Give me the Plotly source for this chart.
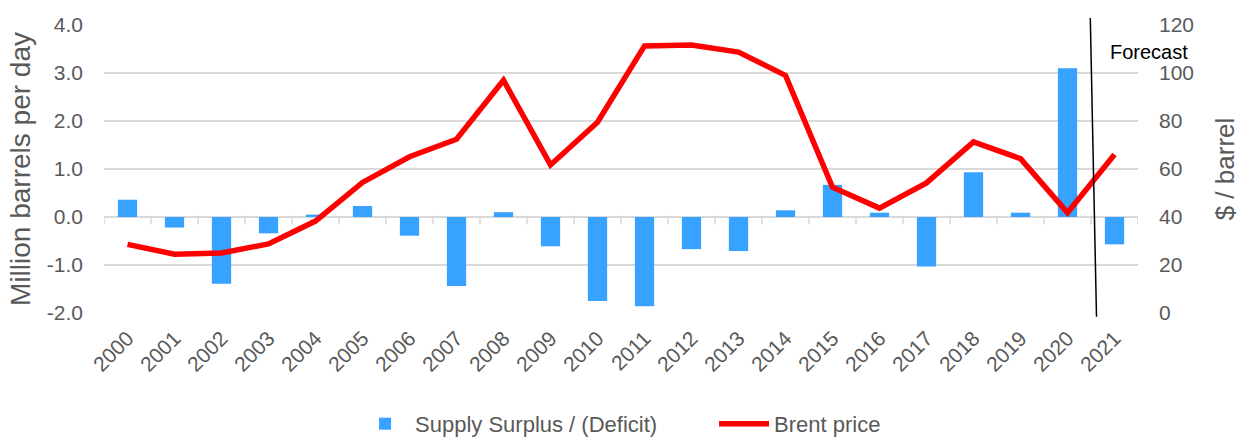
import plotly.graph_objects as go

years = list(range(2000, 2022))
year_labels = [str(y) for y in years]
surplus = [0.36, -0.22, -1.39, -0.34, 0.05, 0.23, -0.39, -1.44, 0.10, -0.61, -1.75,
           -1.86, -0.67, -0.71, 0.14, 0.67, 0.09, -1.03, 0.93, 0.09, 3.10, -0.57]
brent = [28.6, 24.5, 25.0, 28.8, 38.3, 54.4, 65.1, 72.4, 97.0, 61.7, 79.5,
         111.3, 111.7, 108.7, 99.0, 52.4, 43.7, 54.2, 71.3, 64.3, 41.8, 66.0]
left_ticks = [-2, -1, 0, 1, 2, 3, 4]
left_ticktext = ["-2.0", "-1.0", "0.0", "1.0", "2.0", "3.0", "4.0"]
right_ticks = [0, 20, 40, 60, 80, 100, 120]
boundaries = [y - 0.5 for y in years] + [years[-1] + 0.5]

Y_MIN, Y_MAX = -2, 4
HEIGHT, MT, MB = 437, 25, 124
px_per_unit = (HEIGHT - MT - MB) / (Y_MAX - Y_MIN)
TICK_LEN = 6
tick_center = -(TICK_LEN / 2) / px_per_unit

FONT = "Liberation Sans, Arial, sans-serif"
GRAY = "#595959"
GRID = "#d9d9d9"

fig = go.Figure()
fig.add_trace(go.Bar(x=years, y=surplus, name="Supply Surplus / (Deficit)",
                     marker=dict(color="#37A2FF", line=dict(width=0)),
                     width=0.41, xaxis="x", yaxis="y"))
# category-boundary tick marks on the zero axis line
fig.add_trace(go.Scatter(x=boundaries, y=[tick_center] * len(boundaries), mode="markers",
                         marker=dict(symbol="line-ns", size=TICK_LEN,
                                     line=dict(color=GRID, width=1.5)),
                         showlegend=False, hoverinfo="skip", xaxis="x", yaxis="y"))
fig.add_trace(go.Scatter(x=years, y=brent, name="Brent price", mode="lines",
                         line=dict(color="#FF0000", width=5.5),
                         xaxis="x", yaxis="y2"))

fig.add_shape(type="line", xref="x", yref="paper",
              x0=2020.485, y0=1.024, x1=2020.617, y1=-0.013,
              line=dict(color="black", width=1.5))
fig.add_annotation(text="Forecast", xref="x", yref="paper", x=2020.86, y=0.907,
                   xanchor="left", yanchor="middle", showarrow=False,
                   font=dict(family=FONT, size=20, color="black"))

fig.update_layout(
    width=1244, height=HEIGHT,
    margin=dict(l=104, r=106, t=MT, b=MB),
    paper_bgcolor="white", plot_bgcolor="white",
    font=dict(family=FONT, size=21, color=GRAY),
    showlegend=True,
    legend=dict(orientation="h", xref="container", x=0.2854, xanchor="left",
                yref="container", y=0.03, yanchor="middle",
                font=dict(family=FONT, size=22, color=GRAY), traceorder="normal",
                entrywidth=294, itemwidth=50),
    xaxis=dict(range=[1999.5, 2021.5], tickmode="array", tickvals=years,
               ticktext=year_labels, tickangle=-45, showgrid=False, zeroline=False,
               showline=False, ticks="", tickfont=dict(size=21, color=GRAY),
               ticklabelstandoff=8, automargin=False),
    yaxis=dict(range=[Y_MIN, Y_MAX], tickmode="array", tickvals=left_ticks,
               ticktext=left_ticktext, showgrid=True, gridcolor=GRID, gridwidth=1.5,
               zeroline=True, zerolinecolor=GRID, zerolinewidth=2,
               ticks="", ticklabelstandoff=20, automargin=False,
               tickfont=dict(size=21, color=GRAY),
               title=dict(text="Million barrels per day", font=dict(size=28, color=GRAY),
                          standoff=8)),
    yaxis2=dict(range=[0, 120], overlaying="y", side="right", anchor="x",
                tickmode="array", tickvals=right_ticks, showgrid=False,
                zeroline=False, ticks="", ticklabelstandoff=20, automargin=False,
                tickfont=dict(size=21, color=GRAY),
                title=dict(text="$ / barrel", font=dict(size=26, color=GRAY),
                           standoff=22)),
)

fig.write_html("out.html", config={"displayModeBar": False},
               post_script="document.body.style.margin='0';")
